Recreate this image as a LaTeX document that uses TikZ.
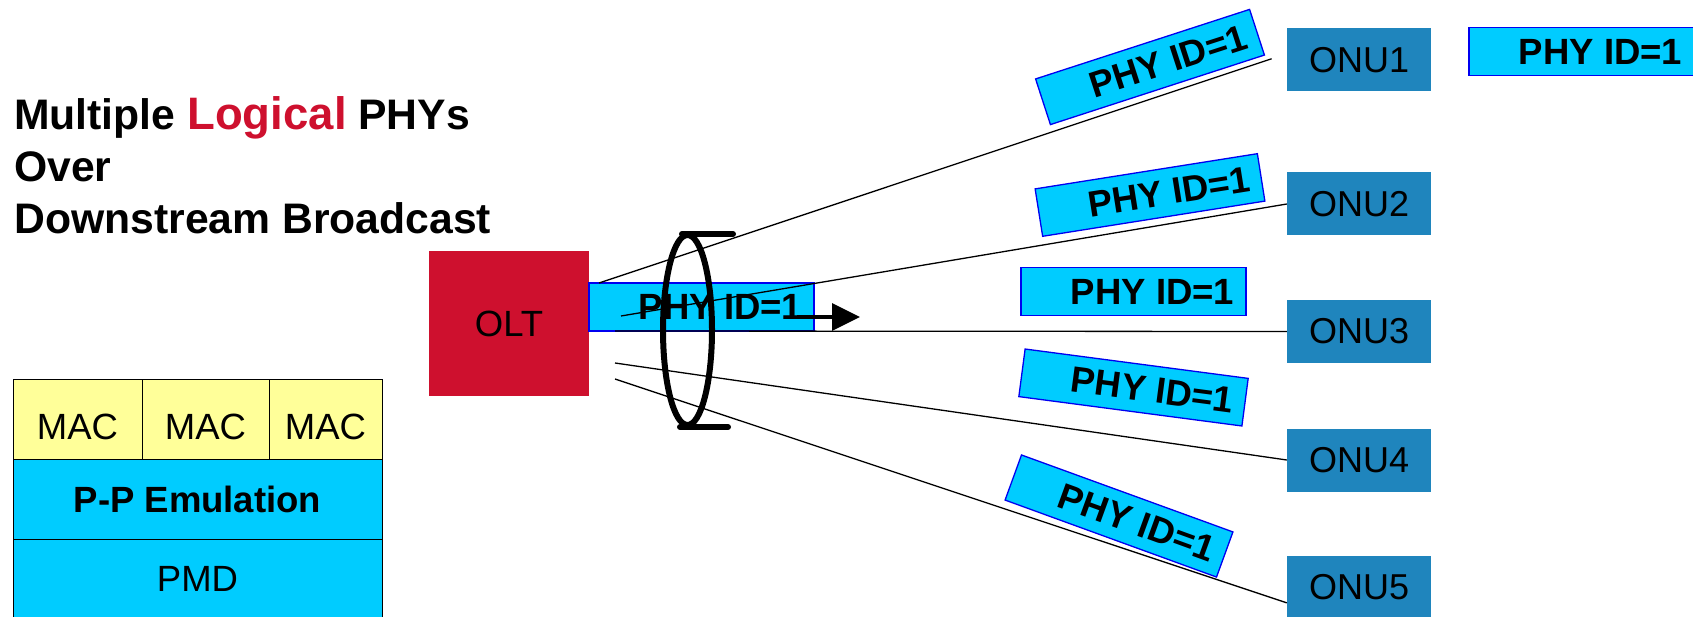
\documentclass[tikz,border=0pt]{standalone}
\usepackage{fontspec}
\setmainfont{Liberation Sans}
\usetikzlibrary{arrows.meta}
\definecolor{oltred}{RGB}{206,16,46}
\definecolor{onublue}{RGB}{31,133,189}
\definecolor{phycyan}{RGB}{0,204,255}
\definecolor{macyellow}{RGB}{255,255,153}
\definecolor{phyborder}{RGB}{0,0,240}
\tikzset{
  phybox/.style={draw=phyborder, fill=phycyan, line width=1.3pt, minimum width=225pt,
    minimum height=48pt, inner sep=0pt, font=\fontsize{36.5}{40}\selectfont\bfseries},
  onubox/.style={fill=onublue, minimum width=144pt, minimum height=63pt, inner sep=0pt,
    font=\fontsize{36}{40}\selectfont},
  cell/.style={draw=black, line width=1pt, inner sep=0pt, font=\fontsize{36.5}{40}\selectfont},
  link/.style={draw=black, line width=1.3pt},
  titletext/.style={anchor=base west, inner sep=0pt, font=\fontsize{42.7}{52}\selectfont\bfseries}
}
\begin{document}
\begin{tikzpicture}[x=1pt, y=-1pt]
\clip (0,0) rectangle (1693,617);
\useasboundingbox (0,0) rectangle (1693,617);

% title
\node[titletext] (title1) at (14,130) {Multiple {\color{oltred}\fontsize{45.5}{52}\selectfont Logical} PHYs};
\node[titletext] (title2) at (14,182) {Over};
\node[titletext] (title3) at (14,234) {Downstream Broadcast};

% MAC stack
\node[cell, fill=macyellow, minimum width=129pt, minimum height=80pt, text height=40pt, text depth=0pt] (mac1) at (77.5,419) {MAC};
\node[cell, fill=macyellow, minimum width=127pt, minimum height=80pt, text height=40pt, text depth=0pt] (mac2) at (205.5,419) {MAC};
\node[cell, fill=macyellow, minimum width=113pt, minimum height=80pt, text height=40pt, text depth=0pt] (mac3) at (325.5,419) {MAC};
\node[cell, fill=phycyan, minimum width=369pt, minimum height=80pt, font=\fontsize{36.5}{40}\selectfont\bfseries] (ppe) at (197.5,499) {P-P Emulation};
\node[cell, fill=phycyan, minimum width=369pt, minimum height=80pt] (pmd) at (197.5,579) {PMD};

% OLT
\node[fill=oltred, minimum width=160pt, minimum height=144pt, inner sep=0pt,
  font=\fontsize{36.5}{40}\selectfont] (olt) at (509,323.5) {OLT};
\node[phybox] (phyolt) at (701.5,307) {\hspace*{38pt}PHY ID=1};

% ONUs
\node[onubox] (onu1) at (1359,60) {ONU1};
\node[onubox] (onu2) at (1359,204) {ONU2};
\node[onubox] (onu3) at (1359,331.5) {ONU3};
\node[onubox] (onu4) at (1359,460) {ONU4};
\node[onubox] (onu5) at (1359,587.5) {ONU5};

% rotated PHY labels
\node[phybox, rotate=18] (phy1) at (1150,67) {\hspace*{38pt}PHY ID=1};
\node[phybox, rotate=9] (phy2) at (1150,195) {\hspace*{38pt}PHY ID=1};
\node[phybox] (phy3) at (1133.5,291.5) {\hspace*{38pt}PHY ID=1};
\node[phybox, rotate=-7.5] (phy4) at (1133.5,387.5) {\hspace*{38pt}PHY ID=1};
\node[phybox, rotate=-20] (phy5) at (1119,516) {\hspace*{38pt}PHY ID=1};
\node[phybox] (phytr) at (1581.5,51.5) {\hspace*{38pt}PHY ID=1};

% fibre lines
\coordinate (s1) at (599,283);
\coordinate (s2) at (621,316);
\coordinate (s3) at (615,331);
\coordinate (s4) at (615,363);
\coordinate (s5) at (615,379);
\draw[link, shorten >=16pt] (s1) -- (onu1.175);
\draw[link] (s2) -- (onu2.west);
\draw[link] (s3) -- (onu3.west);
\draw[link] (s4) -- (onu4.west);
\draw[link] (s5) -- (onu5.192);

% lens symbol
\draw[line width=6pt] (687.5,330) ellipse [x radius=24.5pt, y radius=95pt];
\draw[line width=6pt, line cap=round] (682,234) -- (733,234);
\draw[line width=6pt, line cap=round] (680,427) -- (728,427);

% arrow
\coordinate (a1) at (797,317);
\coordinate (a2) at (860,317);
\draw[line width=3pt, -{Triangle[length=28pt, width=27pt]}] (a1) -- (a2);
\end{tikzpicture}
\end{document}
